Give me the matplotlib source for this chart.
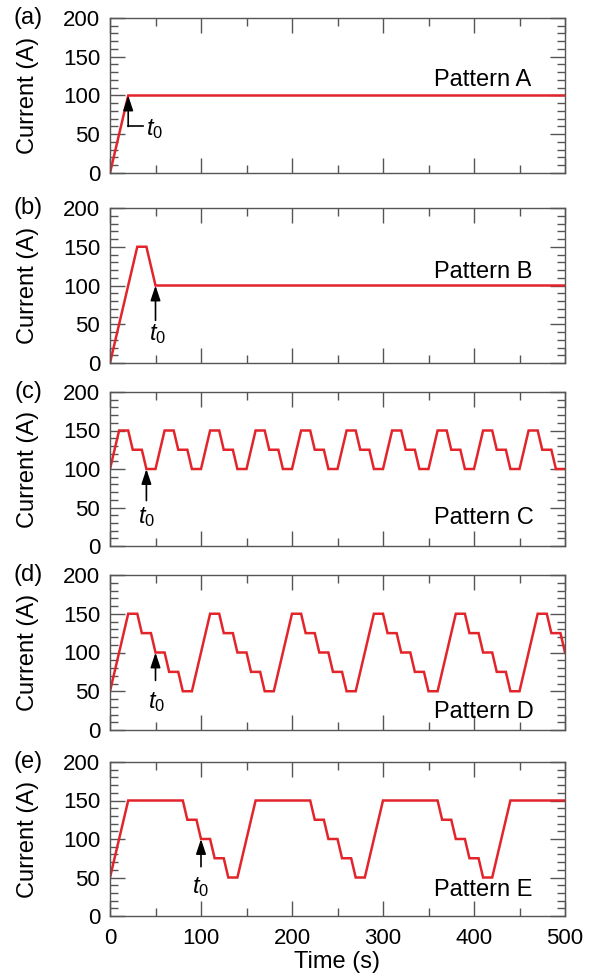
import numpy as np
import matplotlib.pyplot as plt
from matplotlib.ticker import MultipleLocator

plt.rcParams['font.family'] = ['Liberation Sans', 'DejaVu Sans']
plt.rcParams['mathtext.fontset'] = 'custom'
plt.rcParams['mathtext.rm'] = 'Liberation Sans'
plt.rcParams['mathtext.it'] = 'Liberation Sans:italic'

# current patterns, breakpoints (time in s, current in A)
time_a = [0, 20, 500]
curr_a = [0, 100, 100]

time_b = [0, 30, 40, 50, 500]
curr_b = [0, 150, 150, 100, 100]

time_c = [0, 10, 20, 25, 35, 40, 50,
          60, 70, 75, 85, 90, 100,
          110, 120, 125, 135, 140, 150,
          160, 170, 175, 185, 190, 200,
          210, 220, 225, 235, 240, 250,
          260, 270, 275, 285, 290, 300,
          310, 320, 325, 335, 340, 350,
          360, 370, 375, 385, 390, 400,
          410, 420, 425, 435, 440, 450,
          460, 470, 475, 485, 490, 500]
curr_c = [100, 150, 150, 125, 125, 100, 100,
          150, 150, 125, 125, 100, 100,
          150, 150, 125, 125, 100, 100,
          150, 150, 125, 125, 100, 100,
          150, 150, 125, 125, 100, 100,
          150, 150, 125, 125, 100, 100,
          150, 150, 125, 125, 100, 100,
          150, 150, 125, 125, 100, 100,
          150, 150, 125, 125, 100, 100,
          150, 150, 125, 125, 100, 100]

time_d = [0, 20, 30, 35, 45, 50, 60, 65, 75, 80, 90,
          110, 120, 125, 135, 140, 150, 155, 165, 170, 180,
          200, 210, 215, 225, 230, 240, 245, 255, 260, 270,
          290, 300, 305, 315, 320, 330, 335, 345, 350, 360,
          380, 390, 395, 405, 410, 420, 425, 435, 440, 450,
          470, 480, 485, 495, 500]
curr_d = [50, 150, 150, 125, 125, 100, 100, 75, 75, 50, 50,
          150, 150, 125, 125, 100, 100, 75, 75, 50, 50,
          150, 150, 125, 125, 100, 100, 75, 75, 50, 50,
          150, 150, 125, 125, 100, 100, 75, 75, 50, 50,
          150, 150, 125, 125, 100, 100, 75, 75, 50, 50,
          150, 150, 125, 125, 100]

time_e = [0, 20, 80, 85, 95, 100, 110, 115, 125, 130, 140,
          160, 220, 225, 235, 240, 250, 255, 265, 270, 280,
          300, 360, 365, 375, 380, 390, 395, 405, 410, 420,
          440, 500]
curr_e = [50, 150, 150, 125, 125, 100, 100, 75, 75, 50, 50,
          150, 150, 125, 125, 100, 100, 75, 75, 50, 50,
          150, 150, 125, 125, 100, 100, 75, 75, 50, 50,
          150, 150]

panel_labels = ['(a)', '(b)', '(c)', '(d)', '(e)']
pattern_names = ['Pattern A', 'Pattern B', 'Pattern C', 'Pattern D', 'Pattern E']
name_y = [120, 117, 36, 23, 34]
t0_time = [20, 50, 40, 50, 100]
t0_tail = [60, 55, 59, 64, 64]
t0_text_xy = [(40, 57), (52, 37), (40, 38), (51, 36), (100, 38)]

series = [(time_a, curr_a), (time_b, curr_b), (time_c, curr_c),
          (time_d, curr_d), (time_e, curr_e)]

# axes pixel extents (top, bottom) in a 595x977 figure
px_rows = [(18, 173), (208, 363), (392, 546), (575, 730), (762, 916)]
W, H = 595, 977
left_px, right_px = 110, 565

fig = plt.figure(figsize=(W / 100, H / 100), dpi=100)
red = '#e3242b'
spine_col = '#555555'

for i, (top, bot) in enumerate(px_rows):
    ax = fig.add_axes([left_px / W, 1 - bot / H, (right_px - left_px) / W, (bot - top) / H])
    t, c = series[i]
    ax.plot(t, c, color=red, lw=1.8, solid_joinstyle='miter')
    ax.set_xlim(0, 500)
    ax.set_ylim(0, 200)
    ax.xaxis.set_major_locator(MultipleLocator(100))
    ax.xaxis.set_minor_locator(MultipleLocator(50))
    ax.yaxis.set_major_locator(MultipleLocator(50))
    ax.yaxis.set_minor_locator(MultipleLocator(10))
    ax.tick_params(which='both', direction='in', top=True, right=True,
                   color=spine_col, width=1.0, labelsize=16)
    ax.tick_params(which='major', length=11, pad=7)
    ax.tick_params(which='minor', length=5.5)
    for s in ax.spines.values():
        s.set_color(spine_col)
        s.set_linewidth(1.0)
    if i < 4:
        ax.tick_params(labelbottom=False)
    else:
        ax.tick_params(axis='x', pad=9)

    # t0 marker
    tt = t0_time[i]
    ax.annotate('', xy=(tt, 100), xytext=(tt, t0_tail[i]),
                arrowprops=dict(arrowstyle='-|>,head_length=0.9,head_width=0.3',
                                color='k', lw=1.2, shrinkA=0, shrinkB=0,
                                mutation_scale=10))
    if i == 0:
        ax.plot([tt, 36], [t0_tail[i], t0_tail[i]], color='k', lw=1.2)
        ax.text(t0_text_xy[i][0], t0_text_xy[i][1], '$t_0$', fontsize=17,
                ha='left', va='center')
    else:
        ax.text(t0_text_xy[i][0], t0_text_xy[i][1], '$t_0$', fontsize=17,
                ha='center', va='center')

    ax.text(356, name_y[i], pattern_names[i], fontsize=17, ha='left', va='center')

    fig.text(28 / W, 1 - top / H, panel_labels[i], fontsize=17, ha='center', va='center')
    fig.text(28 / W, 1 - (top + bot) / 2 / H, 'Current (A)', fontsize=17,
             rotation=90, ha='center', va='center')

fig.text((left_px + right_px) / 2 / W, 1 - 962 / H, 'Time (s)', fontsize=17,
         ha='center', va='center')

fig.savefig('out.png', dpi=100)
